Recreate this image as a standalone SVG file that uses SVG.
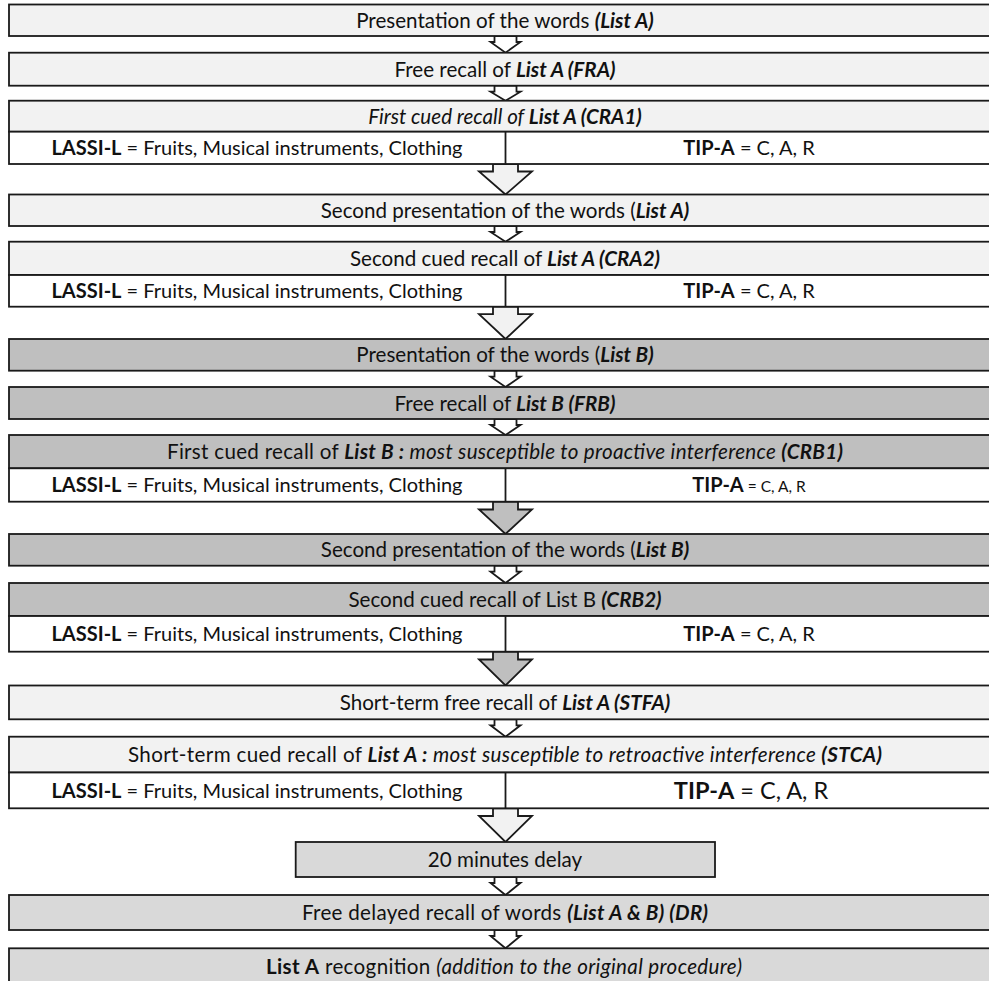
<svg xmlns="http://www.w3.org/2000/svg" width="989" height="981" viewBox="0 0 989 981">
<style>
rect{stroke:#1a1a1a;stroke-width:1.8}
.lt{fill:#f2f2f2}.gr{fill:#bfbfbf}.md{fill:#d9d9d9}.wh{fill:#ffffff}
line{stroke:#1a1a1a;stroke-width:1.8}
path{stroke:#1a1a1a;stroke-width:1.8;stroke-linejoin:miter}
text{font-family:"Lato","Liberation Sans",sans-serif;font-size:20px;fill:#111111;text-anchor:middle}
.h{font-size:20.6px}
.b{font-weight:bold}.i{font-style:italic}.bi{font-weight:bold;font-style:italic}
.big{font-size:23.5px}.sm{font-size:15.5px}
</style>
<g id="connectors">
<path class="wh" d="M494.5,36 H516.5 V42 H520.5 L505.5,52.7 L490.5,42 H494.5 Z"/>
<path class="wh" d="M494.5,85.7 H516.5 V91.7 H520.5 L505.5,100.7 L490.5,91.7 H494.5 Z"/>
<path class="lt" d="M493,164 H518 V171.5 H532 L505.5,194.5 L479,171.5 H493 Z"/>
<path class="wh" d="M494.5,226 H516.5 V232 H520.5 L505.5,241.7 L490.5,232 H494.5 Z"/>
<path class="lt" d="M493,306.7 H518 V314.2 H532 L505.5,339 L479,314.2 H493 Z"/>
<path class="wh" d="M494.5,370.7 H516.5 V376.7 H520.5 L505.5,387 L490.5,376.7 H494.5 Z"/>
<path class="wh" d="M494.5,419 H516.5 V425 H520.5 L505.5,435 L490.5,425 H494.5 Z"/>
<path class="gr" d="M493,501.7 H518 V509.5 H532 L505.5,534 L479,509.5 H493 Z"/>
<path class="wh" d="M494.5,565.7 H516.5 V571.7 H520.5 L505.5,583 L490.5,571.7 H494.5 Z"/>
<path class="gr" d="M493,651.7 H518 V659.5 H532 L505.5,685.5 L479,659.5 H493 Z"/>
<path class="wh" d="M494.5,719.3 H516.5 V725.3 H520.5 L505.5,736.7 L490.5,725.3 H494.5 Z"/>
<path class="lt" d="M493,808.3 H518 V816 H532 L505.5,842 L479,816 H493 Z"/>
<path class="wh" d="M494.5,877 H516.5 V883 H520.5 L505.5,895 L490.5,883 H494.5 Z"/>
<path class="wh" d="M494.5,930 H516.5 V936 H520.5 L505.5,948.3 L490.5,936 H494.5 Z"/>
</g>
<g id="n1"><rect class="lt" x="9" y="4.5" width="992" height="31.5"/>
<text class="h" x="505" y="27.5">Presentation of the words <tspan class="bi">(List A)</tspan></text></g>
<g id="n2"><rect class="lt" x="9" y="52.7" width="992" height="33"/>
<text class="h" x="505" y="76.5">Free recall of <tspan class="bi">List A (FRA)</tspan></text></g>
<g id="n3"><rect class="lt" x="9" y="100.7" width="992" height="31"/>
<rect class="wh" x="9" y="131.7" width="992" height="32.3"/>
<line x1="505.5" y1="131.7" x2="505.5" y2="164"/>
<text class="h" x="505" y="123.5"><tspan class="i">First cued recall of </tspan><tspan class="bi">List A (CRA1)</tspan></text>
<text x="257" y="155"><tspan class="b">LASSI-L</tspan> = Fruits, Musical instruments, Clothing</text>
<text x="749" y="155"><tspan class="b">TIP-A</tspan> = C, A, R</text></g>
<g id="n4"><rect class="lt" x="9" y="194.5" width="992" height="31.5"/>
<text class="h" x="505" y="217.5">Second presentation of the words (<tspan class="bi">List A)</tspan></text></g>
<g id="n5"><rect class="lt" x="9" y="241.7" width="992" height="33.3"/>
<rect class="wh" x="9" y="275" width="992" height="31.7"/>
<line x1="505.5" y1="275" x2="505.5" y2="306.7"/>
<text class="h" x="505" y="265.5">Second cued recall of <tspan class="bi">List A (CRA2)</tspan></text>
<text x="257" y="298"><tspan class="b">LASSI-L</tspan> = Fruits, Musical instruments, Clothing</text>
<text x="749" y="298"><tspan class="b">TIP-A</tspan> = C, A, R</text></g>
<g id="n6"><rect class="gr" x="9" y="339" width="992" height="31.7"/>
<text class="h" x="505" y="362">Presentation of the words (<tspan class="bi">List B)</tspan></text></g>
<g id="n7"><rect class="gr" x="9" y="387" width="992" height="32"/>
<text class="h" x="505" y="410.5">Free recall of <tspan class="bi">List B (FRB)</tspan></text></g>
<g id="n8"><rect class="gr" x="9" y="435" width="992" height="33.3"/>
<rect class="wh" x="9" y="468.3" width="992" height="33.4"/>
<line x1="505.5" y1="468.3" x2="505.5" y2="501.7"/>
<text class="h" x="505" y="459" textLength="676" lengthAdjust="spacing">First cued recall of <tspan class="bi">List B :</tspan><tspan class="i"> most susceptible to proactive interference </tspan><tspan class="bi">(CRB1)</tspan></text>
<text x="257" y="492"><tspan class="b">LASSI-L</tspan> = Fruits, Musical instruments, Clothing</text>
<text x="749" y="492"><tspan class="b">TIP-A</tspan><tspan class="sm"> = C, A, R</tspan></text></g>
<g id="n9"><rect class="gr" x="9" y="534" width="992" height="31.7"/>
<text class="h" x="505" y="557">Second presentation of the words (<tspan class="bi">List B)</tspan></text></g>
<g id="n10"><rect class="gr" x="9" y="583" width="992" height="33"/>
<rect class="wh" x="9" y="616" width="992" height="35.7"/>
<line x1="505.5" y1="616" x2="505.5" y2="651.7"/>
<text class="h" x="505" y="607">Second cued recall of List B <tspan class="bi">(CRB2)</tspan></text>
<text x="257" y="641"><tspan class="b">LASSI-L</tspan> = Fruits, Musical instruments, Clothing</text>
<text x="749" y="641"><tspan class="b">TIP-A</tspan> = C, A, R</text></g>
<g id="n11"><rect class="lt" x="9" y="685.5" width="992" height="33.8"/>
<text class="h" x="505" y="710">Short-term free recall of <tspan class="bi">List A (STFA)</tspan></text></g>
<g id="n12"><rect class="lt" x="9" y="736.7" width="992" height="35.8"/>
<rect class="wh" x="9" y="772.5" width="992" height="35.8"/>
<line x1="505.5" y1="772.5" x2="505.5" y2="808.3"/>
<text class="h" x="505" y="762" textLength="754" lengthAdjust="spacing">Short-term cued recall of <tspan class="bi">List A :</tspan><tspan class="i"> most susceptible to retroactive interference </tspan><tspan class="bi">(STCA)</tspan></text>
<text x="257" y="797.5"><tspan class="b">LASSI-L</tspan> = Fruits, Musical instruments, Clothing</text>
<text class="big" x="751" y="799"><tspan class="b">TIP-A</tspan> = C, A, R</text></g>
<g id="n13"><rect class="md" x="295.7" y="842" width="419.3" height="35"/>
<text class="h" x="505" y="867">20 minutes delay</text></g>
<g id="n14"><rect class="md" x="9" y="895" width="992" height="35"/>
<text class="h" x="505" y="920" textLength="406" lengthAdjust="spacing">Free delayed recall of words <tspan class="bi">(List A &amp; B) (DR)</tspan></text></g>
<g id="n15"><rect class="md" x="9" y="948.3" width="992" height="50"/>
<text class="h" x="504" y="973.5" textLength="476" lengthAdjust="spacing"><tspan class="b">List A</tspan> recognition <tspan class="i">(addition to the original procedure)</tspan></text></g>
</svg>
